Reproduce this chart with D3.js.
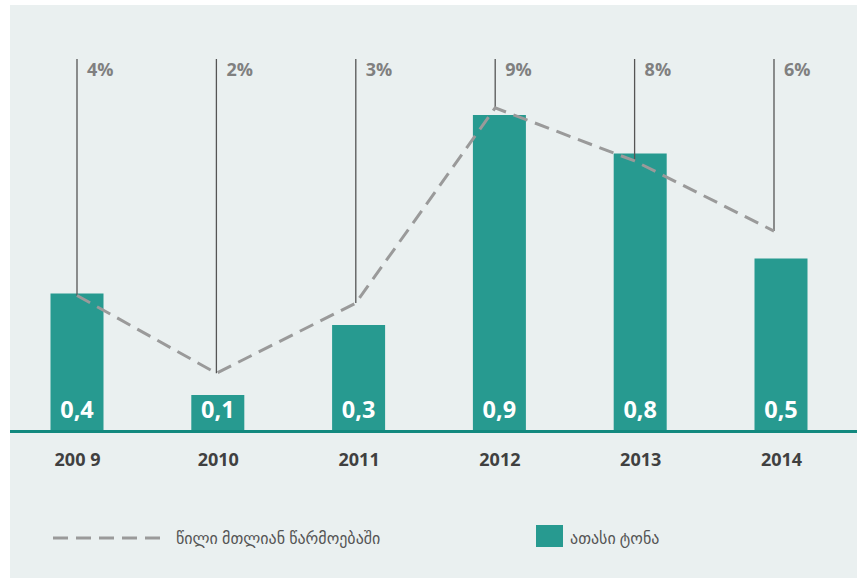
<!DOCTYPE html>
<html><head><meta charset="utf-8">
<script src="https://cdn.jsdelivr.net/npm/d3@7"></script>
<style>
html,body{margin:0;padding:0;background:#fff;}
svg{display:block;}
text{font-family:"Open Sans","DejaVu Sans",sans-serif;}
</style></head>
<body>
<svg id="chart" width="862" height="580"></svg>
<script>
const years = ["200 9", "2010", "2011", "2012", "2013", "2014"];
const tonnes = [0.39, 0.10, 0.30, 0.90, 0.79, 0.49];
const tonneLabels = ["0,4", "0,1", "0,3", "0,9", "0,8", "0,5"];
const share = [4.05, 2.0, 3.85, 9.0, 7.6, 5.75];
const shareLabels = ["4%", "2%", "3%", "9%", "8%", "6%"];
const legendLine = "წილი მთლიან წარმოებაში";
const legendBar = "ათასი ტონა";

const svg = d3.select("#chart");
svg.append("rect").attr("x", 10).attr("y", 5).attr("width", 847).attr("height", 573).attr("fill", "#eaf0f0");

const baseY = 430;
const xBar = d3.scalePoint().domain(years).range([77, 781]);
const xLine = d3.scalePoint().domain(years).range([77, 774]);
const yBar = d3.scaleLinear().domain([0, 1]).range([baseY, 80]);
const yShare = d3.scaleLinear().domain([0, 10]).range([449, 70]);
const barW = 53;
const teal = "#279a90";

// bars
svg.append("g").selectAll("rect").data(years).join("rect")
  .attr("x", d => xBar(d) - barW / 2)
  .attr("y", (d, i) => yBar(tonnes[i]))
  .attr("width", barW)
  .attr("height", (d, i) => baseY - yBar(tonnes[i]))
  .attr("fill", teal);

// value labels
svg.append("g").selectAll("text").data(years).join("text")
  .attr("x", d => xBar(d))
  .attr("y", 418)
  .attr("text-anchor", "middle")
  .attr("fill", "#fff")
  .attr("font-weight", "bold")
  .attr("font-size", 23.5)
  .text((d, i) => tonneLabels[i]);

// baseline
svg.append("rect").attr("x", 10).attr("y", baseY).attr("width", 847).attr("height", 3).attr("fill", "#12897f");

// x axis labels
const xAxis = d3.axisBottom(xBar).tickSize(0).tickPadding(0);
const gx = svg.append("g").attr("transform", `translate(0,${baseY})`).call(xAxis);
gx.select(".domain").remove();
gx.selectAll("text")
  .attr("y", 36).attr("dy", 0)
  .attr("fill", "#404040")
  .attr("font-weight", "bold")
  .attr("font-size", 18)
  .attr("font-family", "\"Open Sans\",\"DejaVu Sans\",sans-serif");

// vertical lines
svg.append("g").selectAll("line").data(years).join("line")
  .attr("x1", d => xLine(d)).attr("x2", d => xLine(d))
  .attr("y1", 59)
  .attr("y2", (d, i) => yShare(share[i]))
  .attr("stroke", "#555")
  .attr("stroke-width", 1.3);

// dashed line
const line = d3.line().x((d, i) => xLine(years[i])).y(d => yShare(d));
svg.append("path").datum(share)
  .attr("d", line)
  .attr("fill", "none")
  .attr("stroke", "#9a9a9a")
  .attr("stroke-width", 3)
  .attr("stroke-dasharray", "15,8");

// percent labels
svg.append("g").selectAll("text").data(years).join("text")
  .attr("x", d => xLine(d) + 10)
  .attr("y", 76)
  .attr("fill", "#808080")
  .attr("font-weight", "bold")
  .attr("font-size", 18)
  .text((d, i) => shareLabels[i]);

// legend
svg.append("line").attr("x1", 53).attr("x2", 160).attr("y1", 538).attr("y2", 538)
  .attr("stroke", "#9a9a9a").attr("stroke-width", 3).attr("stroke-dasharray", "15,8");
svg.append("text").attr("x", 176).attr("y", 544).attr("fill", "#555").attr("font-size", 16).text(legendLine);
svg.append("rect").attr("x", 536).attr("y", 525).attr("width", 27).attr("height", 22).attr("fill", teal);
svg.append("text").attr("x", 570).attr("y", 544).attr("fill", "#555").attr("font-size", 16).text(legendBar);
</script>
</body></html>
